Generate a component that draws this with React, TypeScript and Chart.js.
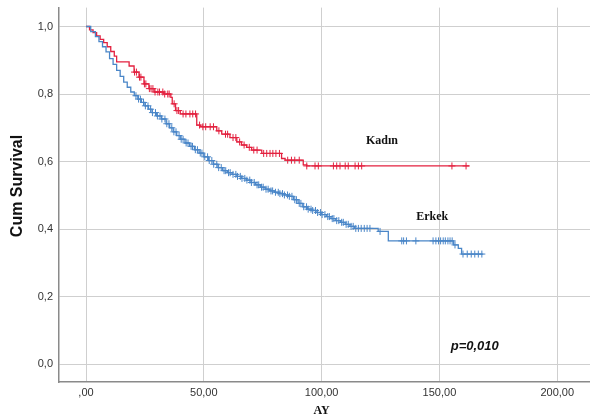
import React, { useEffect, useRef } from "react";
import { Chart, registerables } from "chart.js";

Chart.register(...registerables);

// Kaplan-Meier step data (time in months, cumulative survival)
const kadinTimes = [0, 1.5, 3, 4.5, 6, 7.5, 9, 10.5, 12, 13, 18.3, 20.4, 22.5, 24.6, 26.7, 28.9, 33, 36, 36.6, 38, 40, 47, 48.5, 55.5, 57.6, 61.1, 64, 66, 68.2, 70.3, 74.6, 83, 84.5, 92.2, 93.7, 162.7];
const kadinSurv = [1.0, 0.99, 0.982, 0.972, 0.962, 0.952, 0.94, 0.926, 0.912, 0.895, 0.883, 0.865, 0.85, 0.83, 0.816, 0.806, 0.8, 0.79, 0.771, 0.751, 0.741, 0.708, 0.703, 0.691, 0.681, 0.671, 0.658, 0.649, 0.642, 0.634, 0.624, 0.609, 0.604, 0.59, 0.587, 0.587];
const kadinCensored = [20.6, 21.4, 22.7, 23.3, 24.8, 25.4, 26.9, 27.6, 28.4, 29.3, 30.5, 31.2, 32.6, 33.4, 34.7, 35.3, 37.4, 38.6, 39.3, 41.2, 42.4, 44.1, 45.3, 46.5, 48.2, 49.6, 50.8, 52.7, 54.1, 56.4, 59.2, 60.1, 62.4, 63.6, 65.2, 67.1, 69.3, 71.2, 72.6, 75.4, 76.7, 78.1, 79.3, 80.6, 82.1, 85.6, 87.2, 88.6, 90.5, 93.7, 97.2, 98.6, 105.0, 106.4, 107.8, 110.0, 111.3, 114.2, 115.6, 117.0, 155.3, 161.3];

const erkekTimes = [0, 2, 4, 5.5, 7, 8.5, 10, 11.5, 13, 14.5, 16, 17.5, 19, 20.5, 22, 23.5, 25, 26.5, 28, 30, 32, 34, 35.5, 37, 38.5, 40, 42, 44, 46, 48, 50, 52, 54, 56, 58, 60, 62, 64, 66, 68, 70, 72, 74, 76, 78, 80, 82, 84, 86, 88, 90, 92, 94, 96, 98, 100, 102, 104, 106, 108, 110, 112, 114, 124, 128.3, 156, 158, 159.4, 168.6];
const erkekSurv = [1.0, 0.985, 0.97, 0.955, 0.94, 0.925, 0.905, 0.888, 0.87, 0.852, 0.835, 0.82, 0.806, 0.795, 0.785, 0.775, 0.765, 0.755, 0.745, 0.735, 0.726, 0.712, 0.7, 0.688, 0.677, 0.666, 0.655, 0.645, 0.635, 0.625, 0.614, 0.603, 0.592, 0.582, 0.573, 0.567, 0.562, 0.556, 0.55, 0.545, 0.538, 0.531, 0.524, 0.518, 0.513, 0.509, 0.505, 0.501, 0.497, 0.487, 0.476, 0.466, 0.459, 0.455, 0.449, 0.443, 0.437, 0.431, 0.425, 0.42, 0.414, 0.408, 0.402, 0.393, 0.365, 0.353, 0.343, 0.326, 0.326];
const erkekCensored = [21.2, 22.3, 23.1, 24.4, 25.2, 26.3, 27.4, 28.2, 29.5, 30.3, 31.4, 32.2, 33.5, 34.3, 35.2, 36.4, 37.3, 38.2, 39.5, 40.4, 41.2, 42.5, 43.3, 44.6, 45.2, 46.4, 47.3, 48.5, 49.2, 50.4, 51.6, 52.3, 53.4, 54.2, 55.5, 56.3, 57.4, 58.6, 59.3, 60.5, 61.2, 62.4, 63.6, 64.3, 65.5, 66.2, 67.4, 68.3, 69.5, 70.2, 71.4, 72.6, 73.3, 74.5, 75.2, 76.4, 77.3, 78.5, 79.2, 80.4, 81.6, 82.3, 83.4, 84.2, 85.5, 86.3, 87.4, 88.6, 89.3, 90.5, 91.2, 92.4, 93.6, 94.3, 95.5, 96.2, 97.4, 98.3, 99.5, 100.2, 101.4, 102.6, 103.3, 104.5, 105.2, 106.4, 107.3, 108.5, 109.2, 110.4, 111.3, 112.5, 113.4, 114.5, 115.6, 116.8, 118.1, 119.3, 120.5, 124.8, 134.0, 134.8, 136.0, 140.0, 147.3, 148.5, 149.6, 150.5, 151.6, 152.5, 153.6, 154.5, 155.4, 156.6, 160.0, 161.8, 163.5, 165.0, 166.5, 168.0];

const xTicks = [0, 50, 100, 150, 200];
const yTicks = [0, 0.2, 0.4, 0.6, 0.8, 1.0];
const seriesNames = ["Kadın", "Erkek"];
const pValueText = "p=0,010";
const xTitle = "AY";
const yTitle = "Cum Survival";

const RED = "#e3213f";
const BLUE = "#4a86c8";

// canvas is enlarged and shifted so the plot area lands where the reference has it
const SHIFT_Y = 5;
const EXTRA_W = 5;

function stepLookup(times: number[], surv: number[], t: number): number {
  let v = surv[0];
  for (let i = 0; i < times.length; i++) {
    if (times[i] <= t) v = surv[i];
    else break;
  }
  return v;
}

function toPoints(times: number[], surv: number[]) {
  return times.map((t, i) => ({ x: t, y: surv[i] }));
}

function censorPoints(times: number[], surv: number[], cens: number[]) {
  return cens.map((t) => ({ x: t, y: stepLookup(times, surv, t) }));
}

function fmtComma(v: number, digits: number): string {
  const s = v.toFixed(digits).replace(".", ",");
  return s.startsWith("0,") && digits === 2 ? s.slice(1) : s;
}

const textPlugin = {
  id: "kmText",
  afterDraw(chart: any) {
    const { ctx, scales } = chart;
    const xs = scales.x;
    const ys = scales.y;
    ctx.save();
    ctx.fillStyle = "#111";
    ctx.textAlign = "center";
    ctx.textBaseline = "middle";
    ctx.font = "bold 12px 'Liberation Serif', 'Times New Roman', serif";
    ctx.fillText(seriesNames[0], xs.getPixelForValue(125.6), ys.getPixelForValue(0.661));
    ctx.fillText(seriesNames[1], xs.getPixelForValue(146.9), ys.getPixelForValue(0.436));
    ctx.font = "italic bold 13px 'Liberation Sans', Arial, sans-serif";
    ctx.fillText(pValueText, xs.getPixelForValue(165), ys.getPixelForValue(0.053));
    // axis titles
    ctx.font = "bold 12px 'Liberation Serif', 'Times New Roman', serif";
    ctx.fillText(xTitle, xs.getPixelForValue(100), 411 + SHIFT_Y);
    ctx.translate(18, 186 + SHIFT_Y);
    ctx.rotate(-Math.PI / 2);
    ctx.font = "bold 16px 'Liberation Sans', Arial, sans-serif";
    ctx.fillStyle = "#111";
    ctx.fillText(yTitle, 0, 0);
    ctx.restore();
  },
};

export default function App() {
  const ref = useRef<HTMLCanvasElement | null>(null);
  useEffect(() => {
    if (!ref.current) return;
    const chart = new Chart(ref.current, {
      type: "line",
      data: {
        datasets: [
          {
            label: seriesNames[1],
            data: toPoints(erkekTimes, erkekSurv),
            borderColor: BLUE,
            borderWidth: 1.3,
            pointRadius: 0,
            stepped: "before",
            fill: false,
          },
          {
            label: seriesNames[1] + " censored",
            data: censorPoints(erkekTimes, erkekSurv, erkekCensored),
            showLine: false,
            pointStyle: "cross",
            pointRadius: 3.5,
            pointBorderWidth: 1,
            borderColor: BLUE,
            backgroundColor: BLUE,
          },
          {
            label: seriesNames[0],
            data: toPoints(kadinTimes, kadinSurv),
            borderColor: RED,
            borderWidth: 1.3,
            pointRadius: 0,
            stepped: "before",
            fill: false,
          },
          {
            label: seriesNames[0] + " censored",
            data: censorPoints(kadinTimes, kadinSurv, kadinCensored),
            showLine: false,
            pointStyle: "cross",
            pointRadius: 3.5,
            pointBorderWidth: 1,
            borderColor: RED,
            backgroundColor: RED,
          },
        ],
      },
      options: {
        animation: false,
        responsive: true,
        maintainAspectRatio: false,
        layout: { padding: { top: 2, left: 0, right: 0, bottom: 0 } },
        plugins: { legend: { display: false }, tooltip: { enabled: false } },
        scales: {
          x: {
            type: "linear",
            min: -11.46,
            max: 213.9,
            afterBuildTicks: (s: any) => {
              s.ticks = xTicks.map((v) => ({ value: v }));
            },
            afterFit: (s: any) => {
              s.height = 35;
            },
            grid: { color: "#cfcfcf", lineWidth: 1, drawTicks: false },
            border: { color: "#8a8a8a", width: 1.5 },
            ticks: {
              padding: 4,
              color: "#333",
              font: { family: "'Liberation Sans', Arial, sans-serif", size: 11 },
              callback: (v: any) => fmtComma(Number(v), 2),
            },
          },
          y: {
            type: "linear",
            min: -0.053,
            max: 1.056,
            afterBuildTicks: (s: any) => {
              s.ticks = yTicks.map((v) => ({ value: v }));
            },
            afterFit: (s: any) => {
              s.width = 59;
            },
            grid: { color: "#cfcfcf", lineWidth: 1, drawTicks: false },
            border: { color: "#8a8a8a", width: 1.5 },
            ticks: {
              padding: 6,
              color: "#333",
              font: { family: "'Liberation Sans', Arial, sans-serif", size: 11 },
              callback: (v: any) => fmtComma(Number(v), 1),
            },
          },
        },
      },
      plugins: [textPlugin],
    });
    return () => chart.destroy();
  }, []);
  return (
    <div style={{ position: "absolute", left: 0, top: 0, width: 590, height: 417, overflow: "hidden", background: "#fff" }}>
      <div style={{ position: "absolute", left: 0, top: -SHIFT_Y, width: 590 + EXTRA_W, height: 417 + SHIFT_Y }}>
        <canvas ref={ref} />
      </div>
    </div>
  );
}
